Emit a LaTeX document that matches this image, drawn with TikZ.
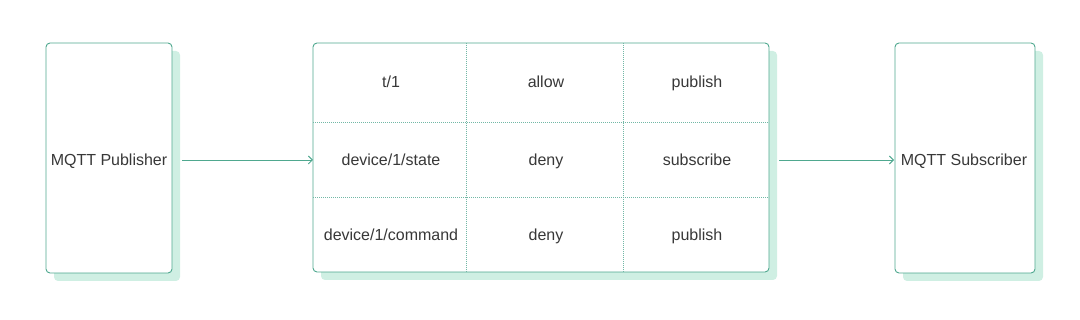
\documentclass[tikz,border=0pt]{standalone}
\usepackage{fontspec}
\setmainfont{Liberation Sans}
\usetikzlibrary{arrows.meta}
\definecolor{edge}{HTML}{4FA88F}
\definecolor{shade}{HTML}{CFEFE3}
\definecolor{txt}{HTML}{383838}
\definecolor{grid}{HTML}{72B8A6}
\begin{document}
\begin{tikzpicture}[x=1pt,y=-1pt,
  box/.style={draw=edge,line width=0.9pt,fill=white,rounded corners=4pt},
  shadowbox/.style={fill=shade,rounded corners=4pt},
  lbl/.style={text=txt,font=\fontsize{16}{18}\selectfont,inner sep=0pt,anchor=base},
  gridline/.style={draw=grid,line width=0.7pt,dash pattern=on 0.8pt off 1.2pt},
  conn/.style={draw=edge,line width=0.9pt,-{Straight Barb[length=4pt,width=8pt]}}]
\useasboundingbox (0,0) rectangle (1080,320);
% shadows
\fill[shadowbox] (54,51) rectangle (180,281);
\fill[shadowbox] (321,51) rectangle (777,280);
\fill[shadowbox] (903,51) rectangle (1043,281);
% boxes
\draw[box] (46,43) rectangle (172,273);
\node[lbl] (pub) at (109,165.5) {MQTT Publisher};
\coordinate (pubE) at (182,160);
\draw[box] (313,43) rectangle (769,272);
\draw[gridline] (466,43) -- (466,272);
\draw[gridline] (623,43) -- (623,272);
\draw[gridline] (313,122) -- (769,122);
\draw[gridline] (313,197) -- (769,197);
\coordinate (tabW) at (313,160);
\coordinate (tabE) at (779,160);
\draw[box] (895,43) rectangle (1035,273);
\node[lbl] (sub) at (964,165.5) {MQTT Subscriber};
\coordinate (subW) at (894,160);
% table texts
\node[lbl] (a1) at (391,87.5) {t/1};
\node[lbl] (b1) at (546,87.5) {allow};
\node[lbl] (c1) at (697,87.5) {publish};
\node[lbl] (a2) at (391,165.5) {device/1/state};
\node[lbl] (b2) at (546,165.5) {deny};
\node[lbl] (c2) at (697,165.5) {subscribe};
\node[lbl] (a3) at (391,240.5) {device/1/command};
\node[lbl] (b3) at (546,240.5) {deny};
\node[lbl] (c3) at (697,240.5) {publish};
% connectors
\draw[conn] (pubE) -- (tabW);
\draw[conn] (tabE) -- (subW);
\end{tikzpicture}
\end{document}
